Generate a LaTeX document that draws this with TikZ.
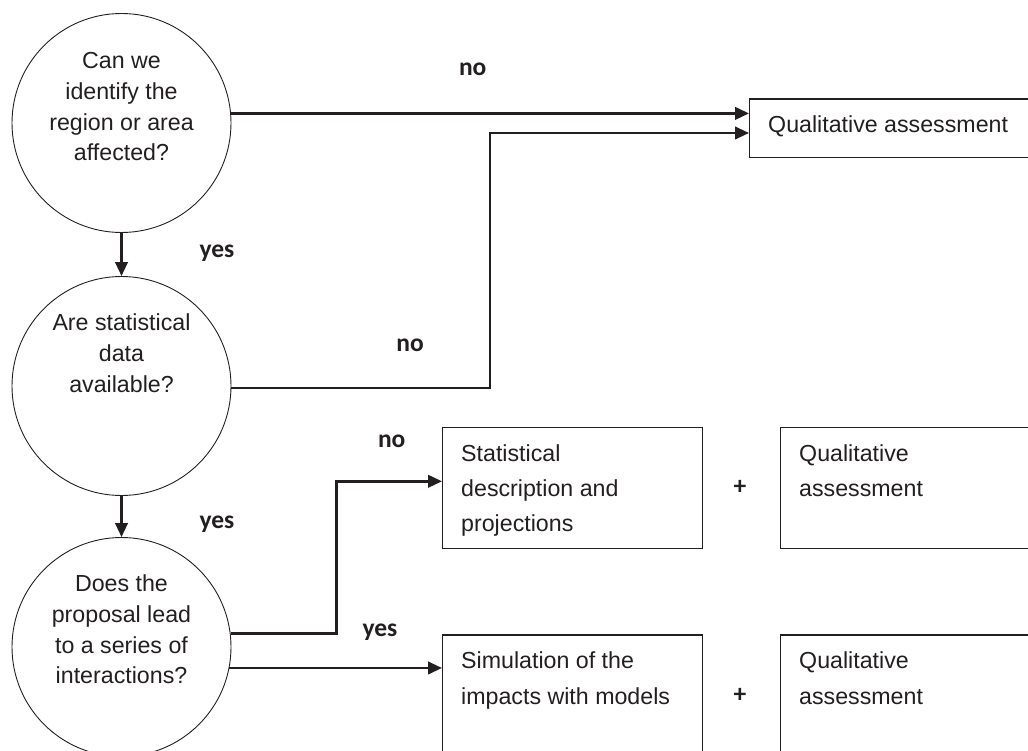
\documentclass[tikz,border=0pt]{standalone}
\usepackage{fontspec}
\setmainfont{Liberation Sans}
\newfontfamily\lblfont{Carlito}
\usetikzlibrary{arrows.meta}
\definecolor{ink}{HTML}{231F20}
\begin{document}
\begin{tikzpicture}[x=1pt,y=-1pt,
  question/.style={circle,draw=ink,line width=0.9pt,minimum size=219pt,inner sep=0pt},
  qtext/.style={anchor=north,inner sep=0pt,align=center,text=ink,font=\fontsize{23.2}{30.7}\selectfont},
  outcome/.style={rectangle,draw=ink,line width=1.4pt,anchor=north west,inner sep=0pt},
  btext/.style={anchor=north west,inner sep=0pt,align=left,text=ink,font=\fontsize{23.2}{35.2}\selectfont},
  answer/.style={anchor=base,inner sep=0pt,text=ink,font=\lblfont\bfseries\fontsize{25.5}{30}\selectfont},
  plus/.style={inner sep=0pt,text=ink,font=\lblfont\bfseries\fontsize{25.5}{30}\selectfont},
  conn/.style={draw=ink,line width=2.5pt,-{Triangle[length=14pt,width=12.5pt]}}
]
\useasboundingbox (0,0) rectangle (1028,751);
\clip (0,0) rectangle (1028,751);

% decision circles
\node[question] (c1) at (121.5,123) {};
\node[question] (c2) at (121.5,386) {};
\node[question] (c3) at (121.5,647) {};
\node[qtext] (c1t) at ([yshift=-34]c1.north) {\strut Can we\\identify the\\region or area\\affected?};
\node[qtext] (c2t) at ([yshift=-33]c2.north) {\strut Are statistical\\data\\available?};
\node[qtext] (c3t) at ([yshift=-33]c3.north) {\strut Does the\\proposal lead\\to a series of\\interactions?};

% outcome boxes
\node[outcome,minimum width=300pt,minimum height=58.7pt] (qa1) at (749,98.3) {};
\node[outcome,minimum width=259.7pt,minimum height=121pt] (sd) at (442,426.7) {};
\node[outcome,minimum width=300pt,minimum height=121pt] (qa2) at (780,426.7) {};
\node[outcome,minimum width=259.7pt,minimum height=140pt] (sim) at (442,634.3) {};
\node[outcome,minimum width=300pt,minimum height=140pt] (qa3) at (780,634.3) {};

\node[btext] (qa1t) at ([xshift=19,yshift=-9.8]qa1.north west) {\strut Qualitative assessment};
\node[btext] (sdt) at ([xshift=19,yshift=-9.8]sd.north west) {\strut Statistical\\description and\\projections};
\node[btext] (qa2t) at ([xshift=19,yshift=-9.8]qa2.north west) {\strut Qualitative\\assessment};
\node[btext] (simt) at ([xshift=19,yshift=-9.8]sim.north west) {\strut Simulation of the\\impacts with models};
\node[btext] (qa3t) at ([xshift=19,yshift=-9.8]qa3.north west) {\strut Qualitative\\assessment};

\node[plus] (p1) at (740,487) {+};
\node[plus] (p2) at (740,695) {+};

% answer labels
\node[answer] (n1) at (472.7,75.7) {no};
\node[answer] (y1) at (217,258) {yes};
\node[answer] (n2) at (410,351.7) {no};
\node[answer] (y2) at (217,528) {yes};
\node[answer] (n3) at (391.7,447.7) {no};
\node[answer] (y3) at (380,636.7) {yes};

% connectors
\coordinate (k1) at (490,133);
\coordinate (k2) at (336.7,481.3);
\draw[conn] (c1.5.7) -- (c1.5.7 -| qa1.west);
\draw[conn] (c2.-1) -| (k1) -- (k1 -| qa1.west);
\draw[conn] (c1.south) -- (c2.north);
\draw[conn] (c2.south) -- (c3.north);
\draw[conn] (c3.7.2) -| (k2) -- (k2 -| sd.west);
\draw[conn] (c3.-11.7) -- (c3.-11.7 -| sim.west);
\end{tikzpicture}
\end{document}
